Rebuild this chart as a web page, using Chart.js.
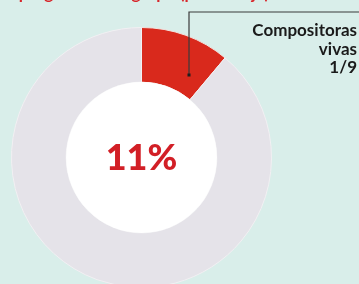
<!DOCTYPE html>
<html>
<head>
<meta charset="utf-8">
<script src="https://cdn.jsdelivr.net/npm/chart.js@4"></script>
<style>
  html, body { margin: 0; padding: 0; background: #d9eeea; overflow: hidden; }
  #wrap { width: 359px; height: 284px; overflow: hidden; position: relative; }
</style>
</head>
<body>
<div id="wrap"><canvas id="myChart" width="359" height="300"></canvas></div>
<script>
// data
var labels = ["Compositoras vivas", "Resto"];
var values = [1, 8];
var colors = ["#d9291c", "#e5e3e9"];
var centerLabel = "11%";
var noteLines = ["Compositoras", "vivas", "1/9"];
var titleText = "de programación: grupo (porcentaje)";

var canvas = document.getElementById("myChart");

var extras = {
    id: "extras",
    beforeDraw: function(chart){
        var ctx = chart.ctx;
        ctx.save();
        ctx.fillStyle = "#d9eeea";
        ctx.fillRect(0, 0, chart.width, chart.height);
        // cut title, only descenders visible
        ctx.fillStyle = "#d7262b";
        ctx.font = "bold 17px Lato";
        ctx.textBaseline = "alphabetic";
        ctx.textAlign = "left";
        ctx.fillText(titleText, -4, -1);
        ctx.restore();
    },
    afterDatasetsDraw: function(chart){
        var ctx = chart.ctx;
        var arc = chart.getDatasetMeta(0).data[0];
        var cx = arc.x, cy = arc.y;
        ctx.save();
        ctx.beginPath();
        ctx.arc(cx, cy, arc.innerRadius, 0, Math.PI * 2);
        ctx.fillStyle = "#ffffff";
        ctx.fill();
        ctx.fillStyle = "#d21f26";
        ctx.font = "900 36px Lato";
        ctx.textAlign = "center";
        ctx.textBaseline = "middle";
        ctx.fillText(centerLabel, cx, cy + 1);

        // leader line to the red slice
        var py = 75;
        ctx.strokeStyle = "#3a3a3a";
        ctx.lineWidth = 1.2;
        ctx.beginPath();
        ctx.moveTo(189, py);
        ctx.lineTo(189, 12);
        ctx.lineTo(chart.width, 12);
        ctx.stroke();
        ctx.fillStyle = "#1e1e1e";
        ctx.fillRect(187.5, py - 1.5, 3, 3);

        ctx.fillStyle = "#1a1a1a";
        ctx.font = "bold 17px Lato";
        ctx.textAlign = "right";
        ctx.textBaseline = "alphabetic";
        var ys = [36, 55, 73];
        for (var i = 0; i < noteLines.length; i++) {
            ctx.fillText(noteLines[i], 357, ys[i]);
        }
        ctx.restore();
    }
};

var myChart = new Chart(canvas, {
    type: "doughnut",
    data: {
        labels: labels,
        datasets: [{
            data: values,
            backgroundColor: colors,
            borderColor: ["#f1e4e0", "#f2f0f3"],
            borderWidth: 1
        }]
    },
    options: {
        responsive: false,
        animation: false,
        cutout: "58%",
        layout: { padding: { left: 11, right: 87, top: 27, bottom: 12 } },
        plugins: {
            legend: { display: false },
            tooltip: { enabled: false }
        }
    },
    plugins: [extras]
});
</script>
</body>
</html>
